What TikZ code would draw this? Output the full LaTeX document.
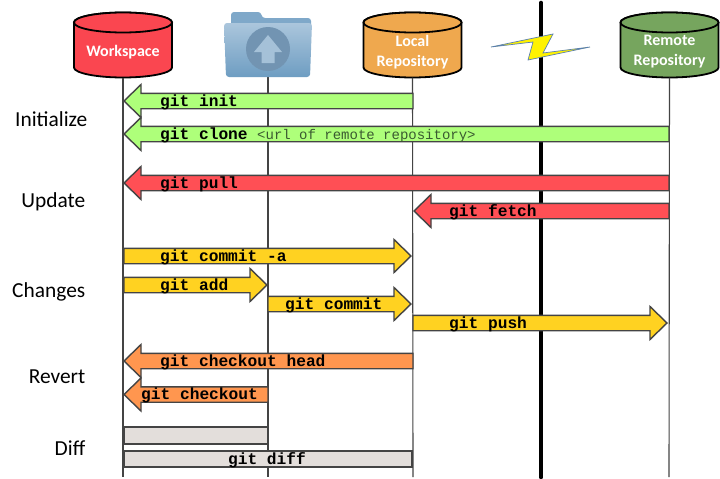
\documentclass[tikz,border=0pt]{standalone}
\usepackage{fontspec}
\setmainfont{Carlito}
\newfontfamily\gitmono{Liberation Mono}
\usetikzlibrary{calc}
\definecolor{cgreen}{HTML}{AEFF7A}
\definecolor{cred}{HTML}{FF4F55}
\definecolor{cyellow}{HTML}{FFD221}
\definecolor{corange}{HTML}{FF964F}
\definecolor{cgray}{HTML}{E3DEDB}
\definecolor{wsfill}{HTML}{FA4650}
\definecolor{lrfill}{HTML}{EFA84E}
\definecolor{rrfill}{HTML}{76A55E}
\definecolor{edgegray}{HTML}{444444}
\definecolor{urlcol}{HTML}{3A5A30}
\definecolor{foldlight}{HTML}{ABC6DC}
\definecolor{folddark}{HTML}{6E9DC2}
\definecolor{foldback}{HTML}{7FA8C9}
\definecolor{foldcirc}{HTML}{7294B2}
\definecolor{boltblue}{HTML}{5A80B0}
\definecolor{boltyellow}{HTML}{FFF200}
\pgfdeclarehorizontalshading{boltshade}{100bp}{
  color(0bp)=(boltblue); color(32bp)=(boltyellow); color(68bp)=(boltyellow); color(100bp)=(boltblue)}
\tikzset{
  lifeline/.style={draw=edgegray,line width=1.1pt},
  band/.style={draw=edgegray,line width=1.4pt,line join=miter},
  cmd/.style={font=\gitmono\bfseries\fontsize{16.2}{16.2}\selectfont,text=black,inner sep=0pt,anchor=west},
  urltext/.style={font=\gitmono\fontsize{14}{14}\selectfont,text=urlcol,inner sep=0pt,anchor=west},
  sectionlabel/.style={font=\fontsize{21.4}{21.4}\selectfont,text=black,inner sep=0pt},
  cyltext/.style={font=\bfseries\fontsize{16}{20}\selectfont,text=white,align=center,inner sep=0pt},
  cylbody/.style={draw=black,line width=1.8pt},
  cylbox/.style={inner sep=0pt,minimum width=98pt,minimum height=65pt},
}
% #1 name, #2 center x, #3 fill
\newcommand{\cyl}[3]{%
  \node[cylbox] (#1) at (#2,45) {};
  \path[cylbody,fill=#3] (#2-49,22.5) -- (#2-49,67.5) arc[start angle=180,end angle=360,x radius=49,y radius=-10]
     -- (#2+49,22.5) arc[start angle=0,end angle=180,x radius=49,y radius=-10] -- cycle;
  \path[cylbody,fill=#3] (#2,22.5) ellipse[x radius=49,y radius=10];
}
% #1 start x, #2 tip x, #3 y, #4 fill; #5 sign (1 right, -1 left)
\newcommand{\barrow}[5]{%
  \path[band,fill=#4] (#1,#3-7.7) -- ({#2-(#5)*17},#3-7.7) -- ({#2-(#5)*17},#3-16.5) -- (#2,#3)
    -- ({#2-(#5)*17},#3+16.5) -- ({#2-(#5)*17},#3+7.7) -- (#1,#3+7.7) -- cycle;
}
\begin{document}
\begin{tikzpicture}[x=1pt,y=-1pt]
\useasboundingbox (0,0) rectangle (720,479);
\fill[white] (0,0) rectangle (720,479);

% stores
\node[inner sep=0pt,minimum width=87pt,minimum height=65pt] (folder) at (268,44.5) {};
\cyl{ws}{123}{wsfill}
\cyl{lr}{412.5}{lrfill}
\cyl{rr}{669.5}{rrfill}

\coordinate (wsend) at (123,477);
\coordinate (shend) at (268,477);
\coordinate (lrend) at (413,477);
\coordinate (rrend) at (669,477);
\draw[lifeline] (folder.south) -- (shend);
\draw[lifeline] (ws.south) -- (wsend);
\draw[lifeline] (lr.south) -- (lrend);
\draw[lifeline] (rr.south) -- (rrend);

% network divide
\coordinate (nettop) at (541,3);
\coordinate (netmida) at (541,36);
\coordinate (netmidb) at (541,58);
\coordinate (netbot) at (541,477);
\draw[black,line width=4.6pt,line cap=round] (nettop) -- (netmida);
\draw[black,line width=4.6pt,line cap=round] (netmidb) -- (netbot);

\node[cyltext] (wslabel) at (123,52) {Workspace};
\node[cyltext] (lrlabel) at (412.5,52) {Local\\Repository};
\node[cyltext] (rrlabel) at (669.5,52) {Remote\\Repository};

% folder art
\fill[foldback,rounded corners=3pt] (231,30) -- (231,12) -- (261,12) -- (262,18) -- (311,18) -- (311,30) -- cycle;
\shade[top color=foldlight,bottom color=folddark,rounded corners=3pt]
   (224,23) -- (312,23) -- (310,77) -- (226,77) -- cycle;
\fill[foldcirc] (268,49) circle[radius=22];
\fill[foldlight!90!foldcirc] (268,35) -- (282,52) -- (274.5,52) -- (274.5,63) -- (261.5,63) -- (261.5,52) -- (254,52) -- cycle;

% lightning
\path[draw=boltblue,line width=0.7pt,shading=boltshade]
   (491,47) -- (553,34) -- (543,53) -- (590,47) -- (528,60) -- (533,42) -- cycle;

% initialize
\barrow{413}{124}{101}{cgreen}{-1}
\node[cmd] (init) at (160,102) {git init};
\barrow{669}{124}{134}{cgreen}{-1}
\node[cmd] (clone) at (160,135) {git clone};
\node[urltext] (url) at (257,135.5) {<url of remote repository>};
% update
\barrow{669}{124}{183}{cred}{-1}
\node[cmd] (pull) at (160,184) {git pull};
\barrow{669}{414}{211}{cred}{-1}
\node[cmd] (fetch) at (449,212) {git fetch};
% changes
\barrow{124}{411}{256}{cyellow}{1}
\node[cmd] (commita) at (160,257) {git commit -a};
\barrow{124}{267}{285}{cyellow}{1}
\node[cmd] (add) at (160,286) {git add};
\barrow{268}{411}{304}{cyellow}{1}
\node[cmd] (commit) at (285,305) {git commit};
\barrow{413}{667}{323}{cyellow}{1}
\node[cmd] (push) at (449,324) {git push};
% revert
\barrow{413}{124}{361}{corange}{-1}
\node[cmd] (chead) at (160,362) {git checkout head};
\barrow{268}{124}{394.5}{corange}{-1}
\node[cmd] (chk) at (141,395.5) {git checkout};
% diff
\path[band,fill=cgray] (124,427) rectangle (268,444);
\path[band,fill=cgray] (124,451) rectangle (412,467);
\node[cmd,anchor=center] (diff) at (267,460) {git diff};

% section labels
\node[sectionlabel,anchor=west] (sinit) at (15,119) {Initialize};
\node[sectionlabel,anchor=east] (supd) at (85.5,202) {Update};
\node[sectionlabel,anchor=east] (schg) at (85.5,292) {Changes};
\node[sectionlabel,anchor=east] (srev) at (85.5,377) {Revert};
\node[sectionlabel,anchor=east] (sdiff) at (85.5,448) {Diff};
\end{tikzpicture}
\end{document}
